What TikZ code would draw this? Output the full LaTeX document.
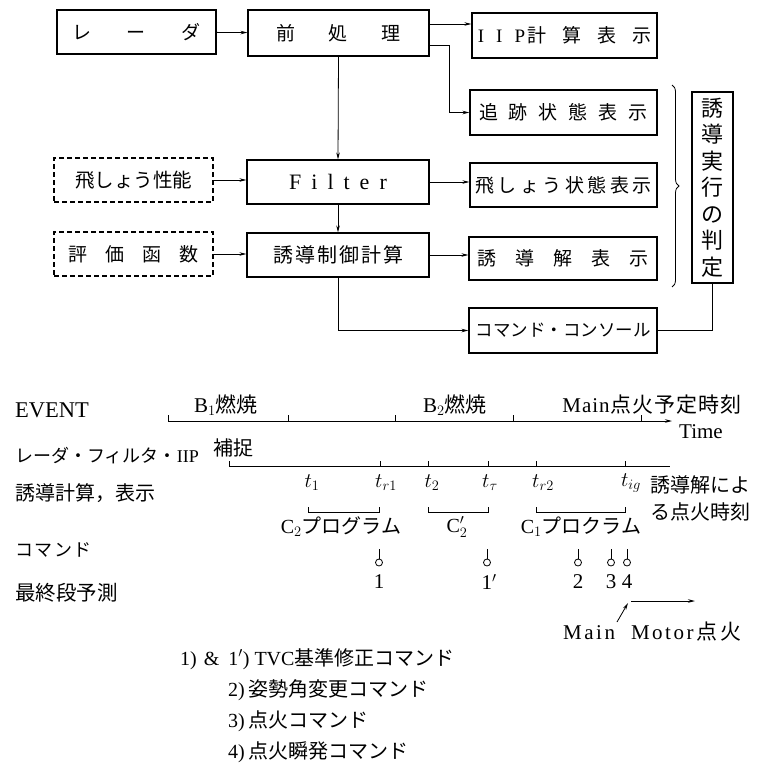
\documentclass[tikz,border=0pt]{standalone}
\usepackage{fontspec}
\setmainfont{Liberation Serif}
\newfontfamily\cjk{Noto Sans CJK JP}
\usetikzlibrary{arrows.meta,decorations.pathreplacing,calc}
\newcommand\hs[1]{\hspace{#1pt}}
\newcommand\J[1]{{\cjk #1}}
\newcommand\fsz[1]{\fontsize{#1}{#1}\selectfont}
\begin{document}
\begin{tikzpicture}[x=1pt,y=-1pt,
  box/.style={draw, line width=1.1pt, inner sep=0pt, anchor=center},
  dbox/.style={box, dash pattern=on 5pt off 3pt},
  arr/.style={line width=0.8pt, -{Stealth[length=7pt,width=3.5pt]}},
  ln/.style={line width=0.8pt},
  lab/.style={inner sep=0pt, anchor=west},
  txt/.style={inner sep=0pt, anchor=center}]
\useasboundingbox (0,0) rectangle (760,776);
% ---------- flow chart ----------
\node[box, minimum width=159pt, minimum height=44pt, font=\fsz{19}] (radar) at (136.5,32) {\J{レ\hs{36}ー\hs{36}ダ}};
\node[box, minimum width=181pt, minimum height=46pt, font=\fsz{19}] (pre) at (338.5,33) {\J{前\hs{34}処\hs{34}理}};
\node[box, minimum width=185pt, minimum height=45pt, font=\fsz{19}] (iip) at (564.5,35.5) {I\hs{12}I\hs{12}P\hs{2}\J{計\hs{16}算\hs{16}表\hs{16}示}};
\node[box, minimum width=187pt, minimum height=45pt, font=\fsz{19}] (track) at (563.5,112.5) {\J{追\hs{11}跡\hs{11}状\hs{11}態\hs{11}表\hs{11}示}};
\node[dbox, minimum width=159pt, minimum height=44pt, font=\fsz{19.5}] (perf) at (133.5,180) {\J{飛しょう性能}};
\node[box, minimum width=182pt, minimum height=44pt, font=\fsz{22}] (filter) at (338,182) {F\hs{10}i\hs{10}l\hs{10}t\hs{10}e\hs{10}r};
\node[box, minimum width=187pt, minimum height=44pt, font=\fsz{19}] (fdisp) at (563.5,185) {\J{飛\hs{3.5}し\hs{3.5}ょ\hs{3.5}う\hs{3.5}状\hs{3.5}態\hs{3.5}表\hs{3.5}示}};
\node[dbox, minimum width=159pt, minimum height=44pt, font=\fsz{19}] (eval) at (133.5,254) {\J{評\hs{18}価\hs{18}函\hs{18}数}};
\node[box, minimum width=182pt, minimum height=44pt, font=\fsz{20}] (guide) at (338,255) {\J{誘\hs{2}導\hs{2}制\hs{2}御\hs{2}計\hs{2}算}};
\node[box, minimum width=188pt, minimum height=43pt, font=\fsz{19}] (sol) at (563,258.5) {\J{誘\hs{19}導\hs{19}解\hs{19}表\hs{19}示}};
\node[box, minimum width=188pt, minimum height=45pt, font=\fsz{17.5}] (console) at (563,330.5) {\J{コマンド・コンソール}};
\node[box, minimum width=41pt, minimum height=191pt, align=center, font={\cjk\fontsize{22}{26.5}\selectfont}] (judge) at (712.5,187.5) {誘\\導\\実\\行\\の\\判\\定};
\coordinate (bt) at (672,85);
\coordinate (bb) at (672,287);
\draw[ln, decorate, decoration={brace, amplitude=7pt}] (bt) -- (bb);

\draw[arr] (radar) -- (pre);
\draw[arr] ([yshift=9pt]pre.east) -- ([yshift=9pt]pre.east -| iip.west);
\draw[arr] ([yshift=-12pt]pre.east) -| ([xshift=-20pt]track.west) -- (track.west);
\draw[arr] (pre.south) -- (filter.north);
\draw[arr] (perf.east) -- (perf.east -| filter.west);
\draw[arr] (filter.east) -- (filter.east -| fdisp.west);
\draw[arr] (filter.south) -- (guide.north);
\draw[arr] (eval.east) -- (eval.east -| guide.west);
\draw[arr] (guide.east) -- (guide.east -| sol.west);
\draw[arr] (guide.south) |- (console.west);
\draw[ln] (judge.south) |- (console.east);

% ---------- time chart ----------
\node[lab, font=\fsz{22.5}] (ev) at (15,410) {EVENT};
\node[lab, font=\fsz{18}] (rfi) at (15,456) {\J{レーダ・フィルタ・}IIP};
\node[lab, font=\fsz{20}] (gc) at (15,493) {\J{誘導計算，表示}};
\node[lab, font=\fsz{18}] (cmd) at (15,550) {\J{コ\hs{1.5}マ\hs{1.5}ン\hs{1.5}ド}};
\node[lab, font=\fsz{20.5}] (fin) at (15,593) {\J{最終段予測}};

\coordinate (e0) at (168,421);
\coordinate (e1) at (672,421);
\draw[arr] (e0) -- (e1);
\foreach \x in {168,288,395,513,641} \draw[ln] (\x,421) -- (\x,415);
\node[txt, font=\fsz{21}] (b1) at (226,405) {B$_1$\J{燃焼}};
\node[txt, font=\fsz{21}] (b2) at (455,405) {B$_2$\J{燃焼}};
\node[txt, font=\fsz{21}] (mt) at (652,405) {M\hs{1}a\hs{1}i\hs{1}n\hs{1}\J{点\hs{1}火\hs{1}予\hs{1}定\hs{1}時\hs{1}刻}};
\node[lab, font=\fsz{21}] (time) at (679,432) {Time};

\node[txt, font=\fsz{20}] (cap) at (233,448) {\J{補捉}};
\draw[ln] (229,466) -- (670,466);
\foreach \x in {229,380,428,488,536,625} \draw[ln] (\x,466) -- (\x,461);
\node[txt, font=\fsz{21}] at (312,483) {$t_1$};
\node[txt, font=\fsz{21}] at (386,483) {$t_{r1}$};
\node[txt, font=\fsz{21}] at (432,483) {$t_2$};
\node[txt, font=\fsz{21}] at (490,483) {$t_{\tau}$};
\node[txt, font=\fsz{21}] at (543,483) {$t_{r2}$};
\node[txt, font=\fsz{21}] at (631,483) {$t_{ig}$};
\node[lab, font=\fsz{20}] (ig1) at (650,485) {\J{誘導解によ}};
\node[lab, font=\fsz{20}] (ig2) at (650,512) {\J{る点火時刻}};

\draw[ln] (308,507) -- (308,512) -- (379,512) -- (379,507);
\draw[ln] (428,507) -- (428,512) -- (488,512) -- (488,507);
\draw[ln] (536,507) -- (536,512) -- (625,512) -- (625,507);
\node[txt, font=\fsz{20}] (p2) at (341,527) {C$_2$\J{プログラム}};
\node[txt, font=\fsz{20}] (p2p) at (457,527) {C$'_2$};
\node[txt, font=\fsz{20}] (p1) at (581,527) {C$_1$\J{プロクラム}};

\foreach \x in {379,487,578,611,627} {
  \draw[ln] (\x,549) -- (\x,559);
  \draw[ln] (\x,562.5) circle (3.5pt);
}
\node[txt, font=\fsz{21}] (n1) at (379,582) {1};
\node[txt, font=\fsz{21}] (n1p) at (489,582) {1$'$};
\node[txt, font=\fsz{21}] (n2) at (578,582) {2};
\node[txt, font=\fsz{21}] (n3) at (611,582) {3};
\node[txt, font=\fsz{21}] (n4) at (627,582) {4};

\coordinate (m0) at (617,622);
\coordinate (m1) at (628,603);
\coordinate (m2) at (631,601);
\coordinate (m3) at (695,601);
\draw[arr] (m0) -- (m1);
\draw[arr] (m2) -- (m3);
\node[lab, font=\fsz{21}] (mm) at (563,632) {M\hs{2.5}a\hs{2.5}i\hs{2.5}n\hs{16}M\hs{2.5}o\hs{2.5}t\hs{2.5}o\hs{2.5}r\hs{3}\J{点\hs{3}火}};

% ---------- legend ----------
\node[lab, font=\fsz{20}] (l1) at (180,659) {1)\hs{7}\&\hs{9}1$'$)\hs{5}TVC\J{基準修正コマンド}};
\node[lab, font=\fsz{20}] (l2) at (228,690) {2)\hs{4}\J{姿勢角変更コマンド}};
\node[lab, font=\fsz{20}] (l3) at (228,721) {3)\hs{4}\J{点火コマンド}};
\node[lab, font=\fsz{20}] (l4) at (228,752) {4)\hs{4}\J{点火瞬発コマンド}};
\end{tikzpicture}
\end{document}
